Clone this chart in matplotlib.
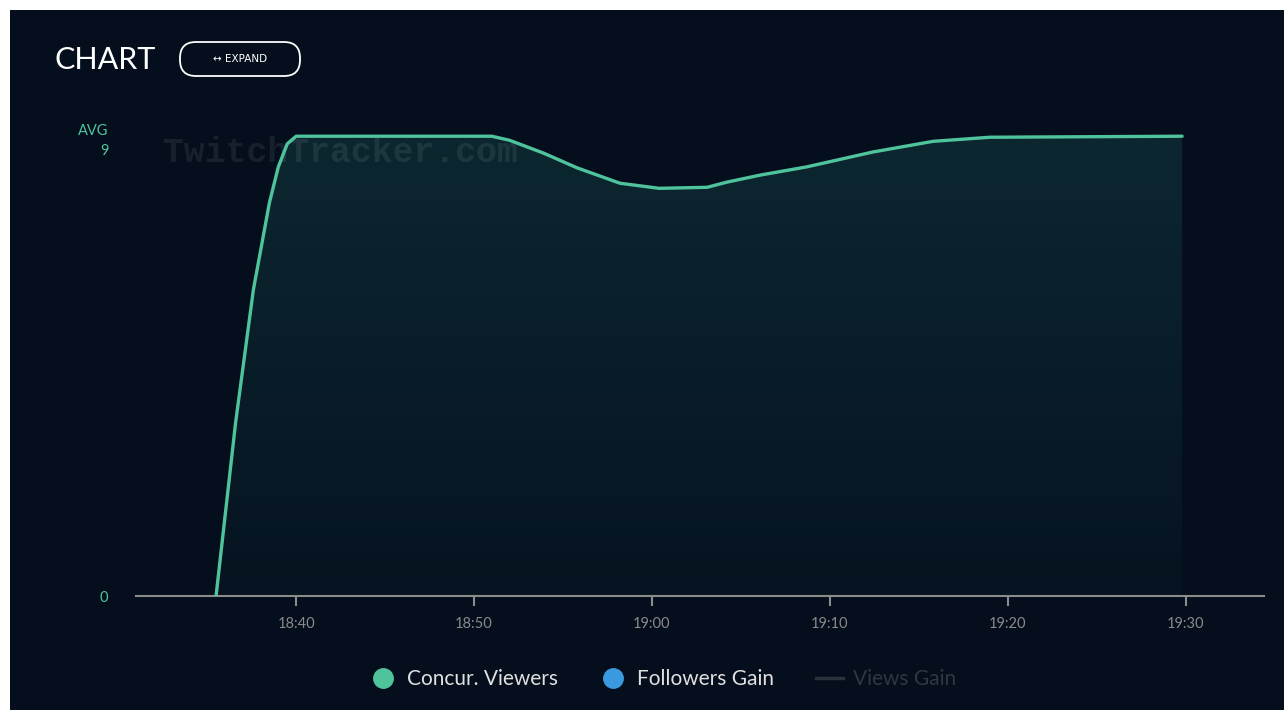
import matplotlib
matplotlib.use("Agg")
import matplotlib.pyplot as plt
import numpy as np
from matplotlib.lines import Line2D
from matplotlib.patches import Rectangle, FancyBboxPatch
from matplotlib.ticker import FuncFormatter
from matplotlib.colors import LinearSegmentedColormap

# minutes after 18:00 and concurrent viewers
minutes = [35.5, 36.6, 37.6, 38.5, 39.0, 39.5, 40.0, 45.0, 51.0, 52.0, 53.9, 55.8,
           58.2, 60.4, 63.1, 64.2, 66.1, 68.7, 72.4, 75.8, 79.0, 89.8]
viewers = [0, 3.4, 6.0, 7.7, 8.4, 8.85, 9.0, 9.0, 9.0, 8.92, 8.67, 8.38,
           8.08, 7.98, 8.0, 8.1, 8.24, 8.40, 8.69, 8.9, 8.98, 9.0]
tick_minutes = [40, 50, 60, 70, 80, 90]
avg_value = 9

bg = '#040e1c'
green = '#4fc49c'
W, H = 1284, 710

fig = plt.figure(figsize=(W / 100, H / 100), dpi=100, facecolor='white')

# background layer in pixel coords
bgax = fig.add_axes([0, 0, 1, 1])
bgax.set_xlim(0, W)
bgax.set_ylim(H, 0)
bgax.axis('off')
bgax.set_zorder(-1)
bgax.add_patch(Rectangle((10, 10), W - 10, H - 10, facecolor=bg, edgecolor='none'))
bgax.add_patch(FancyBboxPatch((180, 42), 120, 34, boxstyle='round,pad=0,rounding_size=16',
                              facecolor='none', edgecolor='white', lw=1.3))
bgax.text(240, 59, '↔ EXPAND', family='DejaVu Sans', fontsize=7.5, color='white',
          ha='center', va='center')
bgax.text(55, 60, 'CHART', family='Lato', fontsize=22, color='white', ha='left', va='center')

ax = fig.add_axes([136 / W, 1 - 596 / H, (1264 - 136) / W, (596 - 126) / H])
ax.set_facecolor('none')
ax.set_xlim(31.0, 94.4)
ax.set_ylim(0, 9.2)

# gradient fill under the line
poly = ax.fill_between(minutes, viewers, 0, color='none', lw=0)
grad = np.linspace(0, 1, 256).reshape(-1, 1)
cmap = LinearSegmentedColormap.from_list('g', ['#061320', '#0c2730'])
img = ax.imshow(grad, cmap=cmap, origin='lower', aspect='auto',
                extent=[minutes[0], minutes[-1], 0, 9], zorder=1)
img.set_clip_path(poly.get_paths()[0], transform=ax.transData)

# watermark above the fill, below the line
ax.text(340 / W, 1 - 152 / H, 'TwitchTracker.com', family='Liberation Mono', weight='bold',
        fontsize=25, color='white', alpha=0.08, ha='center', va='center', zorder=2,
        transform=fig.transFigure, clip_on=False)

ax.plot(minutes, viewers, color=green, lw=2.4, solid_joinstyle='round',
        solid_capstyle='round', zorder=3)

for s in ['top', 'right', 'left']:
    ax.spines[s].set_visible(False)
ax.spines['bottom'].set_color('#8c8c8c')
ax.spines['bottom'].set_linewidth(1.5)

ax.set_xticks(tick_minutes)
ax.xaxis.set_major_formatter(FuncFormatter(lambda v, p: '%d:%02d' % (18 + int(v) // 60, int(v) % 60)))
ax.tick_params(axis='x', colors='#8c8c8c', length=7, width=1.5, pad=8, labelsize=10.5,
               labelcolor='#8a8a8a')
ax.set_yticks([0, avg_value])
ax.set_yticklabels(['0', 'AVG\n%d' % avg_value], color=green, fontsize=10.5, linespacing=1.6)
ax.tick_params(axis='y', length=0, pad=20)
for lbl in ax.get_xticklabels() + ax.get_yticklabels():
    lbl.set_family('Lato')

handles = [Line2D([], [], marker='o', ls='none', color=green, markersize=14),
           Line2D([], [], marker='o', ls='none', color='#3a9ae0', markersize=14),
           Line2D([], [], color='#2a323c', lw=2.5)]
leg = fig.legend(handles, ['Concur. Viewers', 'Followers Gain', 'Views Gain'], ncol=3,
                 loc='center', bbox_to_anchor=(663 / W, 1 - 679 / H), frameon=False,
                 prop={'family': 'Lato', 'size': 15}, handlelength=1.3,
                 handletextpad=0.5, columnspacing=2.0)
for t, c in zip(leg.get_texts(), ['#e0e0e0', '#e0e0e0', '#2e3742']):
    t.set_color(c)

fig.savefig('out.png', dpi=100, facecolor='white')
